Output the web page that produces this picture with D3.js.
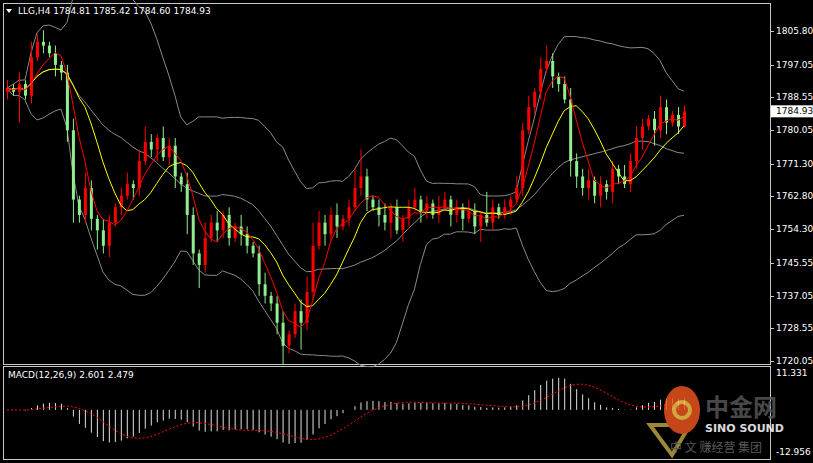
<!DOCTYPE html>
<html><head><meta charset="utf-8">
<script src="https://cdn.jsdelivr.net/npm/d3@7"></script>
<style>body{margin:0;background:#000}svg{display:block}</style>
</head><body>
<svg id="chart" width="813" height="463"></svg>
<script>
// closes of each H4 bar
const closes = [1791,1790,1792,1789, 1799,1803,1802,1800, 1797,1795, 1780,1762,1758,
  1765,1757,1754, 1750,1756,1760, 1763,1766,1765, 1772,1777,1775,1778,1773,1776,
  1768,1766,1758, 1748,1745,1752, 1756,1754,1758, 1752,1755,1753,1750,1748,
  1740,1737,1735, 1730,1724,1727,1733, 1730,1738, 1750,1756,1753,
  1758,1755,1757,1760,1765, 1768,1762,1760, 1758,1756,1760,1754,1757,
  1760,1762,1759,1761,1758,1760,1762,1758, 1760,1757,1759,1755,1758,1756,1760,1758,
  1760,1762,1765, 1780,1786,1790, 1796,1798,1794,1792,1788, 1772,1768,
  1765,1767,1763,1766,1764, 1770,1768,1766,1772, 1778,1781,1783,1780,
  1786,1782,1784,1781,1784.93];
const wickUp = [2,1,3,1, 4,2,3,1, 2,1, 2,3,1, 4,2,1, 3,2,1, 2,3,1, 3,4,2,1,3,2,
  2,1,3, 2,1,4, 2,3,1, 2,1,3,2,1, 2,3,1, 2,3,1,2, 3,4, 6,3,2, 2,3,1,2,5,
  7,2,1, 2,3,1,2,1, 2,3,1,2,1,3,2,1, 2,1,3,2,1,6,2,1, 2,1,3, 2,3,1, 3,4,2,1,2,
  3,2, 2,3,1,2,1, 2,1,3,2, 3,2,1,2, 3,2,1,2,1.5];
const wickDn = [2,1,8,1, 2,1,2,1, 3,2, 3,6,2, 2,3,5, 2,3,1, 2,1,3, 2,1,2,3,1,2,
  3,2,5, 3,6,2, 1,3,2, 2,1,3,2,1, 3,2,2, 3,5,2,1, 7,2, 2,1,3, 2,3,1,2,1,
  2,3,1, 3,2,4,1,3, 2,1,3,2,1,2,1,3, 2,3,1,2,4,1,2,1, 1,2,1, 2,1,2, 2,1,3,2,1,
  4,3, 2,3,2,3,2, 3,2,1,2, 2,3,1,4, 2,3,1,2,0.3];
const priceTicks = [1805.80,1797.05,1788.55,1780.05,1771.30,1762.80,1754.30,1745.55,1737.05,1728.55,1720.05];
const macdTicks = [11.331, -12.956];

const svg = d3.select("#chart");
const font = "DejaVu Sans";
const n = closes.length;
const opens = closes.map((c, i) => i === 0 ? 1790 : closes[i - 1]);
const bars = closes.map((c, i) => ({
  i, o: opens[i], c,
  h: Math.max(opens[i], c) + wickUp[i],
  l: Math.min(opens[i], c) - wickDn[i]
}));

const x = d3.scaleLinear().domain([0, n - 1]).range([7, 684]);
const y = d3.scaleLinear().domain([1720.05, 1805.80]).range([361, 31]);

// indicators
function sma(arr, p) { return arr.map((v, i) => d3.mean(arr.slice(Math.max(0, i - p + 1), i + 1))); }
function ema(arr, p) { const k = 2 / (p + 1); let e = arr[0]; return arr.map(v => (e = v * k + e * (1 - k))); }
const ma5 = sma(closes, 5), ma10 = sma(closes, 10), mid = sma(closes, 20);
const dev = closes.map((v, i) => d3.deviation(closes.slice(Math.max(0, i - 19), i + 1)) || 0);
const upper = mid.map((m, i) => m + 2 * dev[i]), lower = mid.map((m, i) => m - 2 * dev[i]);
const e26 = ema(closes, 26);
const macd = ema(closes, 12).map((v, i) => v - e26[i]);
const signal = sma(macd, 9);

// frames
svg.append("rect").attr("x", 3.5).attr("y", 3.5).attr("width", 767).attr("height", 361).attr("fill", "none").attr("stroke", "#c8c8c8");
svg.append("rect").attr("x", 3.5).attr("y", 366.5).attr("width", 767).attr("height", 93).attr("fill", "none").attr("stroke", "#c8c8c8");

const main = svg.append("g");
const line = arr => d3.line().x((d, i) => x(i)).y(d => y(d))(arr);
[upper, mid, lower].forEach(a => main.append("path").attr("d", line(a)).attr("fill", "none").attr("stroke", "#8a8a8a").attr("stroke-width", 1));

const col = d => d.c >= d.o ? "#ff0000" : "#90ee90";
main.selectAll(".wick").data(bars).join("line")
  .attr("x1", d => x(d.i) + 0.5).attr("x2", d => x(d.i) + 0.5)
  .attr("y1", d => y(d.h)).attr("y2", d => y(d.l)).attr("stroke", col);
main.selectAll(".body").data(bars).join("rect")
  .attr("x", d => x(d.i) - 1).attr("width", 3)
  .attr("y", d => y(Math.max(d.o, d.c)))
  .attr("height", d => Math.max(1, Math.abs(y(d.o) - y(d.c)))).attr("fill", col);

main.append("path").attr("d", line(ma10)).attr("fill", "none").attr("stroke", "#ffff00");
main.append("path").attr("d", line(ma5)).attr("fill", "none").attr("stroke", "#ff0000");

// price axis
const ax = svg.append("g").attr("font-family", font).attr("font-size", 9).attr("fill", "#fff");
priceTicks.forEach(t => {
  ax.append("line").attr("x1", 770).attr("x2", 774).attr("y1", Math.round(y(t)) + 0.5).attr("y2", Math.round(y(t)) + 0.5).attr("stroke", "#c8c8c8");
  ax.append("text").attr("x", 776).attr("y", y(t) + 3).text(t.toFixed(2));
});
const last = closes[n - 1];
svg.append("rect").attr("x", 771).attr("y", y(last) - 6).attr("width", 42).attr("height", 12).attr("fill", "#fff");
svg.append("text").attr("x", 776).attr("y", y(last) + 3).attr("font-family", font).attr("font-size", 9).attr("fill", "#000").text(last.toFixed(2));

svg.append("path").attr("d", "M6,9 L12,9 L9,13 Z").attr("fill", "#fff");
svg.append("text").attr("x", 18).attr("y", 14).attr("font-family", font).attr("font-size", 9).attr("fill", "#fff")
  .text("LLG,H4  1784.81 1785.42 1784.60 1784.93");

// MACD panel
const ym = d3.scaleLinear().domain([-12.956, 11.331]).range([452, 373]);
const mg = svg.append("g");
mg.selectAll("line").data(macd).join("line")
  .attr("x1", (d, i) => x(i) + 0.5).attr("x2", (d, i) => x(i) + 0.5)
  .attr("y1", ym(0)).attr("y2", d => ym(d)).attr("stroke", "#e0e0e0");
mg.append("path").attr("d", d3.line().x((d, i) => x(i)).y(d => ym(d))(signal))
  .attr("fill", "none").attr("stroke", "#ff0000").attr("stroke-dasharray", "2,2");
svg.append("text").attr("x", 8).attr("y", 378).attr("font-family", font).attr("font-size", 9).attr("fill", "#fff")
  .text("MACD(12,26,9) 2.601 2.479");
macdTicks.forEach(t => svg.append("text").attr("x", 776).attr("y", ym(t) + 3).attr("font-family", font).attr("font-size", 9).attr("fill", "#fff").text(t.toFixed(3)));

// watermark
const wm = svg.append("g").attr("opacity", 0.85);
wm.append("path").attr("d", "M650,425 L690,425 L672,455 Z").attr("fill", "none").attr("stroke", "#b8a040").attr("stroke-width", 4);
wm.append("ellipse").attr("cx", 682).attr("cy", 410).attr("rx", 18).attr("ry", 24).attr("fill", "#e8541e");
wm.append("circle").attr("cx", 682).attr("cy", 410).attr("r", 8).attr("fill", "none").attr("stroke", "#f6c34a").attr("stroke-width", 4);
wm.append("text").attr("x", 705).attr("y", 416).attr("font-family", "Noto Sans CJK SC").attr("font-size", 24).attr("font-weight", "bold").attr("fill", "#555").text("中金网");
wm.append("text").attr("x", 705).attr("y", 432).attr("font-family", font).attr("font-size", 11).attr("font-weight", "bold").attr("fill", "#fff").text("SINO SOUND");
wm.append("text").attr("x", 670).attr("y", 452).attr("font-family", "Noto Sans CJK SC").attr("font-size", 12).attr("fill", "#666").text("中 文 赚经营 集团");
</script>
</body></html>
